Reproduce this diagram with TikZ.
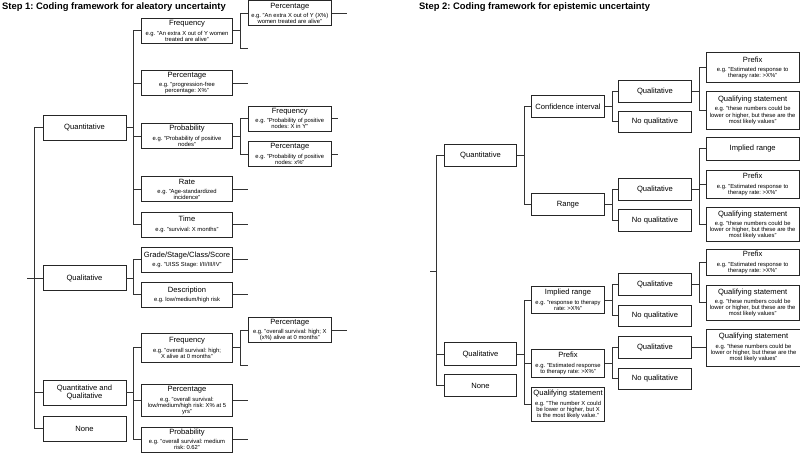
\documentclass[tikz,border=0pt]{standalone}
\usepackage{fontspec}
\setmainfont{Liberation Sans}
\usetikzlibrary{positioning}

\newcommand{\egtext}{\fontsize{5.85}{6.1}\selectfont\lineskiplimit=-5pt\relax}
\newcommand{\titled}[2]{#1\par\vspace{3.3pt}{\egtext #2\par}}

\begin{document}
\frenchspacing
\hyphenpenalty=10000
\exhyphenpenalty=10000
\begin{tikzpicture}[
    x=1pt, y=-1pt,
    box/.style={rectangle, draw=black!85, line width=0.9pt, fill=white, align=flush center, inner sep=1pt, font=\fontsize{7.6}{8.2}\selectfont},
    lvl/.style={box, text width=81pt, minimum height=25pt},
    mid/.style={box, text width=88.6pt, minimum height=#1},
    mid/.default=25pt,
    leaf/.style={box, text width=81pt, minimum height=25pt},
    rlvl/.style={box, text width=70.4pt, minimum height=#1},
    rlvl/.default=22.4pt,
    rleaf/.style={box, text width=91.3pt, minimum height=#1},
    rleaf/.default=22.4pt,
    link/.style={line width=0.8pt, draw=black!80},
    heading/.style={anchor=base west, inner sep=0pt, font=\fontsize{9.4}{11}\selectfont\bfseries}
]
\useasboundingbox (0,0) rectangle (800,453);

% Titles
\node[heading] (head1) at (2,9.6) {Step 1: Coding framework for aleatory uncertainty};
\node[heading] (head2) at (419,9.6) {Step 2: Coding framework for epistemic uncertainty};

% Step 1: first level
\node[lvl] (qn) at (84.5,127.5) {Quantitative};
\node[lvl] (ql) at (84.5,278) {Qualitative};
\node[lvl] (qq) at (84.5,392.5) {Quantitative and\\Qualitative};
\node[lvl] (none) at (84.5,428.5) {None};

% Step 1: second level
\node[mid] (fr) at (187,30.8) {\titled{Frequency}{e.g. "An extra X out of Y women\\treated are alive"}};
\node[mid] (pc) at (187,83.2) {\titled{Percentage}{e.g. "progression-free\\percentage: X\%"}};
\node[mid] (pb) at (187,136) {\titled{Probability}{e.g. "Probability of positive\\nodes"}};
\node[mid] (rt) at (187,189.3) {\titled{Rate}{e.g. "Age-standardized\\incidence"}};
\node[mid] (tm) at (187,224.5) {\titled{Time}{e.g. "survival: X months"}};
\node[mid] (gr) at (187,259.8) {\titled{Grade/Stage/Class/Score}{e.g. "UISS Stage: I/II/III/IV"}};
\node[mid] (ds) at (187,294.8) {\titled{Description}{e.g. low/medium/high risk}};
\node[mid=29pt] (qfr) at (187,347.8) {\titled{Frequency}{e.g. "overall survival: high;\\X alive at 0 months"}};
\node[mid=32.4pt] (qpc) at (187,400.5) {\titled{Percentage}{e.g. "overall survival:\\low/medium/high risk: X\% at 5\\yrs"}};
\node[mid] (qpb) at (187,439.5) {\titled{Probability}{e.g. "overall survival: medium\\risk: 0.62"}};

% Step 1: third level
\node[leaf] (frpc) at (289.8,13.3) {\titled{Percentage}{e.g. "An extra X out of Y (X\%)\\women treated are alive"}};
\node[leaf] (pbfr) at (289.8,118.5) {\titled{Frequency}{e.g. "Probability of positive\\nodes: X in Y"}};
\node[leaf] (pbpc) at (289.8,154) {\titled{Percentage}{e.g. "Probability of positive\\nodes: x\%"}};
\node[leaf] (qfrpc) at (289.8,330) {\titled{Percentage}{e.g. "overall survival: high; X\\(x\%) alive at 0 months"}};

% Step 2: first level
\node[rlvl] (rqn) at (480.5,155.5) {Quantitative};
\node[rlvl] (rql) at (480.5,354) {Qualitative};
\node[rlvl] (rno) at (480.5,385.5) {None};

% Step 2: second level
\node[rlvl] (ci) at (568,106.7) {Confidence interval};
\node[rlvl] (rg) at (568,204.7) {Range};
\node[rlvl=26.6pt] (ir) at (568,300) {\titled{Implied range}{e.g. "response to therapy\\rate: >X\%"}};
\node[rlvl=28.7pt] (px) at (568,363.3) {\titled{Prefix}{e.g. "Estimated response\\to therapy rate: >X\%"}};
\node[rlvl=34.4pt] (qs) at (568,404.5) {\titled{Qualifying statement}{e.g. "The number X could\\be lower or higher, but X\\is the most likely value."}};

% Step 2: third level
\node[rlvl=21.7pt, text width=71.4pt] (ciq) at (655,91.2) {Qualitative};
\node[rlvl=21.7pt, text width=71.4pt] (cin) at (655,121.8) {No qualitative};
\node[rlvl=21.7pt, text width=71.4pt] (rgq) at (655,189.2) {Qualitative};
\node[rlvl=21.7pt, text width=71.4pt] (rgn) at (655,220.5) {No qualitative};
\node[rlvl=21.7pt, text width=71.4pt] (irq) at (655,284.2) {Qualitative};
\node[rlvl=21.7pt, text width=71.4pt] (irn) at (655,315.8) {No qualitative};
\node[rlvl=21.7pt, text width=71.4pt] (pxq) at (655,347.5) {Qualitative};
\node[rlvl=21.7pt, text width=71.4pt] (pxn) at (655,378.8) {No qualitative};

% Step 2: fourth level
\node[rleaf=30pt] (ciqp) at (752.7,67.7) {\titled{Prefix}{e.g. "Estimated response to\\therapy rate: >X\%"}};
\node[rleaf=38.3pt] (ciqs) at (752.7,110.2) {\titled{Qualifying statement}{e.g. "these numbers could be\\lower or higher, but these are the\\most likely values"}};
\node[rleaf=22.3pt] (rgqi) at (752.7,148.8) {Implied range};
\node[rleaf=28.3pt] (rgqp) at (752.7,184.2) {\titled{Prefix}{e.g. "Estimated response to\\therapy rate: >X\%"}};
\node[rleaf=34pt] (rgqs) at (752.7,224.7) {\titled{Qualifying statement}{e.g. "these numbers could be\\lower or higher, but these are the\\most likely values"}};
\node[rleaf=26.7pt] (irqp) at (752.7,262.3) {\titled{Prefix}{e.g. "Estimated response to\\therapy rate: >X\%"}};
\node[rleaf=34.3pt] (irqs) at (752.7,302.8) {\titled{Qualifying statement}{e.g. "these numbers could be\\lower or higher, but these are the\\most likely values"}};
\node[rleaf=37pt, right=14.3pt of pxq] (pxqs) {\titled{Qualifying statement}{e.g. "these numbers could be\\lower or higher, but these are the\\most likely values"}};

% Step 1 connections
\coordinate (root1) at (27,278);
\draw[link] (root1) -- (ql.west);
\draw[link] (qn.west) -- ++(-8,0) |- (none.west);
\draw[link] (qq.west) -- ++(-8,0);
\foreach \c in {fr,pc,pb,rt,tm} \draw[link] (qn.east) -- ++(7,0) |- (\c.west);
\foreach \c in {gr,ds} \draw[link] (ql.east) -- ++(7,0) |- (\c.west);
\foreach \c in {qfr,qpc,qpb} \draw[link] (qq.east) -- ++(7,0) |- (\c.west);

\coordinate (fr2) at (248.3,48.3);
\coordinate (qfr2) at (248.3,365);
\draw[link] (fr.east) -- ++(7.5,0) |- (frpc.west);
\draw[link] (fr.east) -- ++(7.5,0) |- (fr2);
\foreach \c in {pbfr,pbpc} \draw[link] (pb.east) -- ++(7.5,0) |- (\c.west);
\draw[link] (qfr.east) -- ++(7.5,0) |- (qfrpc.west);
\draw[link] (qfr.east) -- ++(7.5,0) |- (qfr2);

% open ends
\coordinate (end2) at (248.3,0);
\coordinate (end3) at (347,0);
\coordinate (end3s) at (337.5,0);
\foreach \c in {pc,rt,tm,gr,ds,qpc,qpb} \draw[link] (\c.east) -- (\c.east -| end2);
\foreach \c in {frpc,qfrpc} \draw[link] (\c.east) -- (\c.east -| end3);
\foreach \c in {pbfr,pbpc} \draw[link] (\c.east) -- (\c.east -| end3s);

% Step 2 connections
\coordinate (root2) at (430,271);
\coordinate (trunk2) at (436.4,271);
\draw[link] (root2) -- (trunk2);
\draw[link] (rqn.west) -- ++(-7.5,0) |- (rno.west);
\draw[link] (rql.west) -- ++(-7.5,0);
\foreach \c in {ci,rg} \draw[link] (rqn.east) -- ++(7.3,0) |- (\c.west);
\foreach \c in {ir,px,qs} \draw[link] (rql.east) -- ++(7.3,0) |- (\c.west);
\foreach \p/\c in {ci/ciq,ci/cin,rg/rgq,rg/rgn,ir/irq,ir/irn,px/pxq,px/pxn}
    \draw[link] (\p.east) -- ++(7.4,0) |- (\c.west);
\foreach \p/\c in {ciq/ciqp,ciq/ciqs,rgq/rgqi,rgq/rgqp,rgq/rgqs,irq/irqp,irq/irqs}
    \draw[link] (\p.east) -- ++(7.6,0) |- (\c.west);
\draw[link] (pxq.east) -- (pxqs.west);

\end{tikzpicture}
\end{document}
